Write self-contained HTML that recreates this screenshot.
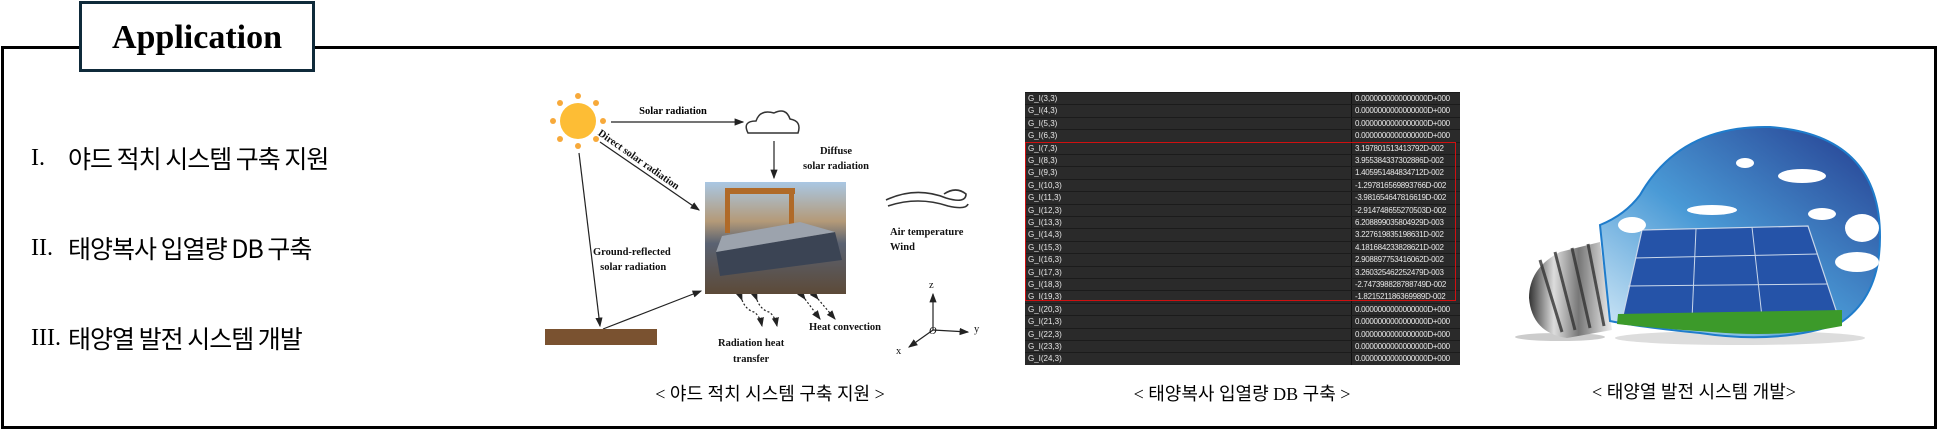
<!DOCTYPE html>
<html><head><meta charset="utf-8">
<style>
*{margin:0;padding:0;box-sizing:border-box}
body{width:1938px;height:430px;background:#fff;position:relative;overflow:hidden;font-family:"Liberation Sans","Noto Sans CJK KR",sans-serif}
.frame{position:absolute;left:1px;top:46px;width:1936px;height:383px;border:3px solid #000}
.title{position:absolute;left:79px;top:1px;width:236px;height:71px;border:3px solid #0f2a3a;background:#fff;font-family:"Liberation Serif",serif;font-weight:bold;font-size:34px;text-align:center;line-height:67px}
.li{position:absolute;left:31px;height:34px;line-height:34px;font-size:24px;font-family:"Liberation Serif",serif;color:#000;white-space:nowrap}
.li span{position:absolute;left:37px;top:0;font-family:"Noto Sans CJK KR",sans-serif;font-size:25px;line-height:34px;letter-spacing:-1px}
.cap{position:absolute;font-size:18px;font-family:"Liberation Serif","Noto Sans CJK KR",serif;white-space:nowrap;transform:translateX(-50%)}
.tbl{position:absolute;left:1025px;top:92px;width:435px;height:273px;background:#1b1b1b;overflow:hidden}
.r{position:absolute;left:0;width:435px;height:11.4px;background:#2a2a2a;color:#e8e8e8;font-size:8px;line-height:11.4px;font-family:"Liberation Sans",sans-serif}
.r b{font-weight:normal;position:absolute;left:3px}
.r i{font-style:normal;position:absolute;left:326px;top:0;height:100%;border-left:1px solid #111;padding-left:3px;letter-spacing:-0.3px}
.lab{position:absolute;font-family:"Liberation Serif",serif;font-weight:bold;font-size:10.5px;white-space:nowrap;color:#111}
</style></head><body>
<div class="frame"></div>
<div class="title">Application</div>

<div class="li" style="top:141px">I.<span>야드 적치 시스템 구축 지원</span></div>
<div class="li" style="top:231px">II.<span>태양복사 입열량 DB 구축</span></div>
<div class="li" style="top:321px">III.<span>태양열 발전 시스템 개발</span></div>

<svg style="position:absolute;left:0;top:0" width="1938" height="430">
<defs>
<marker id="a" markerWidth="8" markerHeight="8" refX="7" refY="4" orient="auto"><path d="M0,1 L8,4 L0,7z" fill="#222"/></marker>
<linearGradient id="bulb" x1="0" y1="1" x2="1" y2="0"><stop offset="0" stop-color="#d6ebf8"/><stop offset=".45" stop-color="#4a9ad6"/><stop offset="1" stop-color="#243b8e"/></linearGradient>
<linearGradient id="metal" x1="0" y1="0" x2="1" y2="0"><stop offset="0" stop-color="#333"/><stop offset=".3" stop-color="#ddd"/><stop offset=".6" stop-color="#777"/><stop offset="1" stop-color="#eee"/></linearGradient>
<linearGradient id="photo" x1="0" y1="0" x2="0" y2="1"><stop offset="0" stop-color="#a9c7e3"/><stop offset=".35" stop-color="#b49a78"/><stop offset=".55" stop-color="#5a6272"/><stop offset="1" stop-color="#5c4a38"/></linearGradient>
</defs>
<g fill="#f7a93a">
<circle cx="578" cy="121" r="18" fill="#fdbd35"/>
<circle cx="578" cy="96" r="3"/><circle cx="578" cy="146" r="3"/><circle cx="553" cy="121" r="3"/><circle cx="603" cy="121" r="3"/>
<circle cx="560" cy="103" r="3"/><circle cx="596" cy="103" r="3"/><circle cx="560" cy="139" r="3"/><circle cx="596" cy="139" r="3"/>
</g>
<g stroke="#222" stroke-width="1.2" fill="none">
<line x1="611" y1="122" x2="743" y2="122" marker-end="url(#a)"/>
<line x1="774" y1="141" x2="774" y2="178" marker-end="url(#a)"/>
<line x1="600" y1="142" x2="699" y2="210" marker-end="url(#a)"/>
<line x1="579" y1="153" x2="600" y2="326" marker-end="url(#a)"/>
<line x1="603" y1="329" x2="701" y2="291" marker-end="url(#a)"/>
<path d="M748,133 q-6,-12 8,-12 q4,-12 18,-8 q12,-6 16,6 q12,2 8,14z" stroke="#333" stroke-width="1.5"/>
<path d="M886,200 q30,-14 60,-2 q20,6 20,-4 q-10,-8 -22,0 M888,206 q30,-10 60,0 q18,4 20,-2" stroke="#333" stroke-width="1.6"/>
<line x1="933" y1="330" x2="933" y2="294" marker-end="url(#a)"/>
<line x1="933" y1="330" x2="968" y2="332" marker-end="url(#a)"/>
<line x1="933" y1="330" x2="909" y2="347" marker-end="url(#a)"/>
<g stroke-dasharray="2,2">
<path d="M742,300 q4,10 12,12 q6,4 8,14" marker-start="url(#a)" marker-end="url(#a)"/>
<path d="M757,300 q4,10 12,12 q6,4 8,14" marker-start="url(#a)" marker-end="url(#a)"/>
<line x1="805" y1="299" x2="820" y2="319" marker-start="url(#a)" marker-end="url(#a)"/>
<line x1="818" y1="299" x2="835" y2="319" marker-start="url(#a)" marker-end="url(#a)"/>
</g>
</g>
<rect x="545" y="329" width="112" height="16" fill="#7a5230"/>
<rect x="705" y="182" width="141" height="112" fill="url(#photo)"/>
<rect x="725" y="188" width="70" height="6" fill="#b06a28"/><rect x="725" y="188" width="5" height="45" fill="#b06a28"/><rect x="789" y="188" width="5" height="45" fill="#b06a28"/>
<polygon points="716,252 835,232 842,260 720,276" fill="#3b4454"/><polygon points="716,252 835,232 800,222 722,236" fill="#9ca3ad"/>
<text x="673" y="114" class="lab" text-anchor="middle">Solar radiation</text>

<!-- bulb -->
<ellipse cx="1560" cy="337" rx="45" ry="4" fill="#ccc"/>
<ellipse cx="1740" cy="338" rx="125" ry="7" fill="#ddd"/>
<path d="M1560,252 l40,-10 l12,88 l-45,8 q-35,-5 -38,-40 q0,-30 31,-46z" fill="url(#metal)"/>
<g stroke="#333" stroke-width="3" fill="none" opacity=".8"><path d="M1540,260 l22,72"/><path d="M1555,252 l20,78"/><path d="M1572,248 l18,80"/><path d="M1588,244 l16,82"/></g>
<path d="M1600,225 q25,-10 40,-30 q40,-70 130,-68 q110,8 110,110 q0,60 -40,86 q-60,22 -140,10 q-60,-6 -90,-12 z" fill="url(#bulb)" stroke="#1f7ccb" stroke-width="2"/>
<polygon points="1642,230 1808,226 1838,316 1622,320" fill="#2553a8" stroke="#c9d7ea" stroke-width="1.2"/>
<g stroke="#c9d7ea" stroke-width="1"><line x1="1696" y1="229" x2="1692" y2="319"/><line x1="1752" y1="227" x2="1762" y2="317"/><line x1="1635" y1="258" x2="1818" y2="254"/><line x1="1628" y1="286" x2="1828" y2="284"/></g>
<path d="M1618,314 L1842,310 L1842,326 q-60,12 -130,6 q-60,-4 -95,-8z" fill="#3c9a2a"/>
<g fill="#fff"><ellipse cx="1802" cy="176" rx="24" ry="7"/><ellipse cx="1712" cy="210" rx="25" ry="5"/><ellipse cx="1862" cy="228" rx="17" ry="14"/><ellipse cx="1822" cy="214" rx="14" ry="6"/><ellipse cx="1745" cy="163" rx="9" ry="5"/><ellipse cx="1857" cy="262" rx="22" ry="10"/><ellipse cx="1632" cy="225" rx="14" ry="8"/></g>
</svg>

<div class="lab" style="left:602px;top:128px;transform:rotate(35deg);transform-origin:0 0">Direct solar radiation</div>
<div class="lab" style="left:803px;top:144px;text-align:center;line-height:15px">Diffuse<br>solar radiation</div>
<div class="lab" style="left:593px;top:245px;text-align:center;line-height:15px">Ground-reflected<br>&nbsp;solar radiation</div>
<div class="lab" style="left:890px;top:225px;line-height:15px">Air temperature<br>Wind</div>
<div class="lab" style="left:718px;top:336px;text-align:center;line-height:16px">Radiation heat<br>transfer</div>
<div class="lab" style="left:809px;top:322px">Heat convection</div>
<div class="lab" style="left:929px;top:280px;font-weight:normal">z</div>
<div class="lab" style="left:974px;top:324px;font-weight:normal">y</div>
<div class="lab" style="left:896px;top:346px;font-weight:normal">x</div>
<div class="lab" style="left:929px;top:326px;font-weight:normal;font-style:italic">O</div>

<div class="tbl">
<div class="r" style="top:1px"><b>G_I(3,3)</b><i>0.0000000000000000D+000</i></div>
<div class="r" style="top:13.4px"><b>G_I(4,3)</b><i>0.0000000000000000D+000</i></div>
<div class="r" style="top:25.8px"><b>G_I(5,3)</b><i>0.0000000000000000D+000</i></div>
<div class="r" style="top:38.2px"><b>G_I(6,3)</b><i>0.0000000000000000D+000</i></div>
<div class="r" style="top:50.6px"><b>G_I(7,3)</b><i>3.197801513413792D-002</i></div>
<div class="r" style="top:63px"><b>G_I(8,3)</b><i>3.955384337302886D-002</i></div>
<div class="r" style="top:75.4px"><b>G_I(9,3)</b><i>1.405951484834712D-002</i></div>
<div class="r" style="top:87.8px"><b>G_I(10,3)</b><i>-1.297816569893766D-002</i></div>
<div class="r" style="top:100.2px"><b>G_I(11,3)</b><i>-3.981654647816619D-002</i></div>
<div class="r" style="top:112.6px"><b>G_I(12,3)</b><i>-2.914748655270503D-002</i></div>
<div class="r" style="top:125px"><b>G_I(13,3)</b><i>6.208899035804929D-003</i></div>
<div class="r" style="top:137.4px"><b>G_I(14,3)</b><i>3.227619835198631D-002</i></div>
<div class="r" style="top:149.8px"><b>G_I(15,3)</b><i>4.181684233828621D-002</i></div>
<div class="r" style="top:162.2px"><b>G_I(16,3)</b><i>2.908897753416062D-002</i></div>
<div class="r" style="top:174.6px"><b>G_I(17,3)</b><i>3.260325462252479D-003</i></div>
<div class="r" style="top:187px"><b>G_I(18,3)</b><i>-2.747398828788749D-002</i></div>
<div class="r" style="top:199.4px"><b>G_I(19,3)</b><i>-1.821521186369989D-002</i></div>
<div class="r" style="top:211.8px"><b>G_I(20,3)</b><i>0.0000000000000000D+000</i></div>
<div class="r" style="top:224.2px"><b>G_I(21,3)</b><i>0.0000000000000000D+000</i></div>
<div class="r" style="top:236.6px"><b>G_I(22,3)</b><i>0.0000000000000000D+000</i></div>
<div class="r" style="top:249px"><b>G_I(23,3)</b><i>0.0000000000000000D+000</i></div>
<div class="r" style="top:261.4px"><b>G_I(24,3)</b><i>0.0000000000000000D+000</i></div>
<div style="position:absolute;left:0;top:50px;width:431px;height:159px;border:1.5px solid #d01010"></div>
</div>

<div class="cap" style="left:770px;top:380px">&lt; 야드 적치 시스템 구축 지원 &gt;</div>
<div class="cap" style="left:1242px;top:380px">&lt; 태양복사 입열량 DB 구축 &gt;</div>
<div class="cap" style="left:1694px;top:378px">&lt; 태양열 발전 시스템 개발&gt;</div>
</body></html>
